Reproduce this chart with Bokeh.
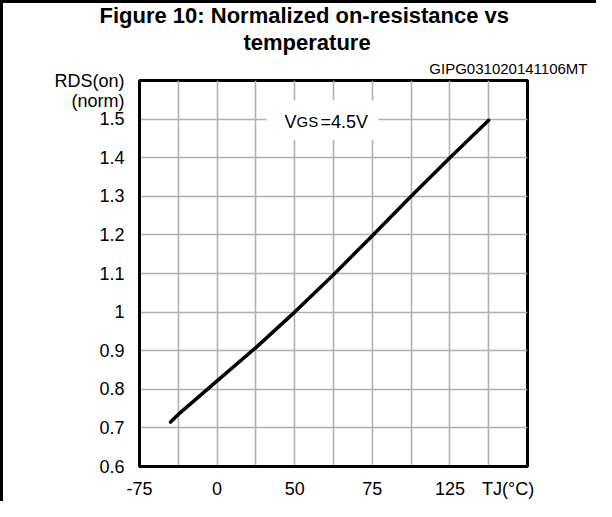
from bokeh.plotting import figure
from bokeh.models import FixedTicker, Label, BoxAnnotation, Title
from bokeh.embed import file_html
from bokeh.resources import INLINE

# ---- data ----
temp_c = [-55, -50, -25, 0, 25, 50, 75, 100, 125, 150]
rds_norm = [0.715, 0.735, 0.822, 0.908, 1.0, 1.097, 1.198, 1.300, 1.400, 1.497]

x_grid = [-75, -50, -25, 0, 25, 50, 75, 100, 125, 150, 175]
x_ticks = [-75, -25, 25, 75, 125, 162.5]
x_tick_labels = ["-75", "0", "50", "75", "125", "TJ(°C)"]
y_grid = [0.6, 0.7, 0.8, 0.9, 1.0, 1.1, 1.2, 1.3, 1.4, 1.5, 1.6]
y_ticks = [0.6, 0.7, 0.8, 0.9, 1.0, 1.1, 1.2, 1.3, 1.4, 1.5, 1.548, 1.6]
y_tick_labels = ["0.6", "0.7", "0.8", "0.9", "1", "1.1", "1.2", "1.3", "1.4", "1.5", "(norm)", "RDS(on)"]

title_line1 = "Figure 10: Normalized on-resistance vs"
title_line2 = "temperature"
figure_id = "GIPG031020141106MT"

FONT = "Liberation Sans"

p = figure(frame_width=388, frame_height=386, title_location=None,
           min_border_left=139, min_border_right=69, min_border_top=80, min_border_bottom=35,
           x_range=(-75, 175), y_range=(0.6, 1.6),
           output_backend="svg", toolbar_location=None, tools="")
# outer box edges (left and top) shown through a transparent border area
p.styles = {"background-color": "white", "box-shadow": "inset 3px 3px 0px 0px black"}

p.background_fill_color = "white"
p.border_fill_color = None
p.outline_line_color = "black"
p.outline_line_width = 3

p.xaxis.ticker = FixedTicker(ticks=x_ticks)
p.xaxis.major_label_overrides = dict(zip(x_ticks, x_tick_labels))
p.yaxis.ticker = FixedTicker(ticks=y_ticks)
p.yaxis.major_label_overrides = dict(zip(y_ticks, y_tick_labels))
for ax in (p.xaxis, p.yaxis):
    ax.axis_line_color = "black"
    ax.axis_line_width = 3
    ax.major_tick_line_color = None
    ax.minor_tick_line_color = None
    ax.major_label_text_font = FONT
    ax.major_label_text_font_size = "18px"
    ax.major_label_text_color = "black"
p.xaxis.major_label_standoff = 6
p.yaxis.major_label_standoff = 9

p.xgrid.ticker = FixedTicker(ticks=x_grid)
p.ygrid.ticker = FixedTicker(ticks=y_grid)
for g in (p.xgrid, p.ygrid):
    g.grid_line_color = "#b0b0b0"
    g.grid_line_width = 1.6

p.line(temp_c, rds_norm, line_color="black", line_width=3.5, line_cap="round")

# white patch behind condition label
p.add_layout(BoxAnnotation(left=6.8, right=79, bottom=1.445, top=1.548,
                           fill_color="white", fill_alpha=1, line_color=None))

def lab(text, xo, size):
    p.add_layout(Label(x=-75, y=1.6, x_offset=xo, y_offset=-41, text=text,
                       text_font=FONT, text_font_size=size, text_align="left",
                       text_baseline="alphabetic", text_color="black"))

lab("V", 145, "18px")
lab("GS", 157, "15px")
lab("=4.5V", 181, "18px")

# titles stacked above the frame (first added = closest to frame)
p.add_layout(Title(text=figure_id, align="right", offset=-60, standoff=7,
                   text_font=FONT, text_font_size="15px", text_font_style="normal",
                   text_color="black"), "above")
p.add_layout(Title(text=title_line2, align="left", offset=104, standoff=0,
                   text_font=FONT, text_font_size="22px", text_font_style="bold",
                   text_color="black"), "above")
p.add_layout(Title(text=title_line1, align="left", offset=-40, standoff=0,
                   text_font=FONT, text_font_size="22px", text_font_style="bold",
                   text_color="black"), "above")

open("out.html", "w").write(file_html(p, INLINE))
